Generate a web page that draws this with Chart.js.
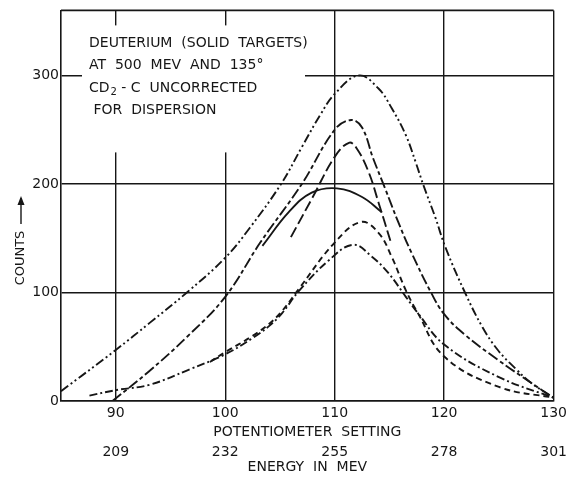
<!DOCTYPE html>
<html>
<head>
<meta charset="utf-8">
<script src="https://cdn.jsdelivr.net/npm/chart.js@4.4.1/dist/chart.umd.min.js"></script>
<style>
  html, body { margin: 0; padding: 0; background: #fff; }
  #wrap { width: 571px; height: 479px; }
</style>
</head>
<body>
<div id="wrap"><canvas id="chart"></canvas></div>
<script>
const potTicks = [90, 100, 110, 120, 130];
const energyLabels = ['209', '232', '255', '278', '301'];
const countTicks = [0, 100, 200, 300];

// dash-dot-dot curve (tallest)
const curveAx = [85, 90, 93.1, 96.5, 100, 102.2, 105.1, 107, 108.7, 110, 112.2, 114, 115.2, 116.5, 117.4, 118.1, 119.2, 120.1, 121.9, 123.5, 124.9, 126.5, 127.9, 130];
const curveAy = [9, 47, 72, 100, 132, 159, 200, 234, 264, 283, 300, 288, 270, 245, 220, 199, 169, 142, 100, 68, 47, 30, 17, 3];

// long dash / short dash curve
const curveBx = [89.7, 93, 96.5, 100, 103.2, 107, 110, 111.5, 112.5, 113.5, 114.6, 115.8, 117, 118.8, 120, 121.9, 124.9, 127.9, 130];
const curveBy = [0, 27, 59, 96, 146, 200, 250, 259, 252, 224, 196, 165, 137, 100, 80, 61, 38, 17, 3];

// long dashes, short run
const curveCx = [106, 108, 110, 111.3, 112, 113.1, 114, 115.2];
const curveCy = [151, 188, 225, 238, 233, 211, 183, 144];

// solid, short run
const curveSx = [103.4, 105.8, 107.9, 110.2, 112.5, 114.3];
const curveSy = [143, 174, 192, 196, 188, 174];

// short dashes
const curveDx = [98.6, 100, 102.5, 104, 105.2, 106.7, 110, 112.4, 114, 115.2, 116.5, 117.6, 120, 125, 130];
const curveDy = [36, 45, 60, 71, 83, 103, 146, 165, 155, 133, 102, 81, 41, 13, 3];

// dash-dot
const curveEx = [87.6, 90, 93.1, 96.7, 100, 102.5, 104, 105.2, 106.7, 109.5, 111.7, 113.4, 114.9, 116.5, 117.6, 120, 125, 130];
const curveEy = [5, 10, 15, 29, 43, 58, 69, 81, 101, 130, 144, 133, 118, 96, 81, 52, 22, 3];

const noteLines = ['DEUTERIUM  (SOLID  TARGETS)', 'AT  500  MEV  AND  135°', null, ' FOR  DISPERSION'];

const ink = '#161616';
const FONT = '"DejaVu Sans", "Liberation Sans", sans-serif';

const pts = (xs, ys) => xs.map((x, i) => ({ x, y: ys[i] }));

function curve(xs, ys, dash) {
  return {
    data: pts(xs, ys),
    borderColor: ink,
    borderWidth: 1.9,
    borderDash: dash,
    pointRadius: 0,
    fill: false,
    tension: 0.4
  };
}

const setTicks = values => axis => { axis.ticks = values.map(v => ({ value: v })); };

// blank out the grid behind the note, then write the note and the y title
const paperNotes = {
  id: 'paperNotes',
  beforeDatasetsDraw(chart) {
    const { ctx, chartArea: a } = chart;
    ctx.save();
    ctx.fillStyle = '#fff';
    ctx.fillRect(a.left + 21, a.top + 15, 223, 127);
    ctx.restore();
  },
  afterDraw(chart) {
    const { ctx, chartArea: a } = chart;
    ctx.save();
    ctx.strokeStyle = ink;
    ctx.lineWidth = 1.6;
    ctx.beginPath();
    ctx.moveTo(a.left, a.top);
    ctx.lineTo(a.right, a.top);
    ctx.stroke();

    ctx.fillStyle = ink;
    ctx.font = '14px ' + FONT;
    ctx.textBaseline = 'middle';
    const x0 = a.left + 28;
    const rows = [a.top + 33, a.top + 55, a.top + 78, a.top + 100];
    noteLines.forEach((t, i) => { if (t) ctx.fillText(t, x0, rows[i]); });
    // CD2 - C line with subscript
    let x = x0;
    ctx.fillText('CD', x, rows[2]);
    x += ctx.measureText('CD').width;
    ctx.font = '10px ' + FONT;
    ctx.fillText('2', x + 1, rows[2] + 4);
    x += ctx.measureText('2').width + 1;
    ctx.font = '14px ' + FONT;
    ctx.fillText(' - C  UNCORRECTED', x, rows[2]);

    // rotated y title with an upward arrow
    ctx.translate(21, 258);
    ctx.rotate(-Math.PI / 2);
    ctx.textAlign = 'center';
    ctx.font = '13px ' + FONT;
    ctx.fillText('COUNTS', 0, 0);
    ctx.lineWidth = 1.4;
    ctx.beginPath();
    ctx.moveTo(34, 0);
    ctx.lineTo(60, 0);
    ctx.stroke();
    ctx.beginPath();
    ctx.moveTo(62, 0);
    ctx.lineTo(53, -3.5);
    ctx.lineTo(53, 3.5);
    ctx.closePath();
    ctx.fill();
    ctx.restore();
  }
};

const tickFont = { family: FONT, size: 14 };

new Chart(document.getElementById('chart'), {
  type: 'line',
  data: {
    datasets: [
      curve(curveAx, curveAy, [9, 3, 2, 3, 2, 3]),
      curve(curveBx, curveBy, [11, 3, 4, 3]),
      curve(curveCx, curveCy, [11, 4]),
      curve(curveSx, curveSy, []),
      curve(curveDx, curveDy, [6, 4]),
      curve(curveEx, curveEy, [8, 3, 2, 3])
    ]
  },
  options: {
    responsive: true,
    maintainAspectRatio: false,
    animation: false,
    layout: { padding: { left: 0, top: 10, right: 16, bottom: 3 } },
    plugins: { legend: { display: false }, tooltip: { enabled: false } },
    scales: {
      x: {
        type: 'linear', position: 'bottom', min: 85, max: 130,
        afterBuildTicks: setTicks(potTicks),
        grid: { color: ink, lineWidth: 1.4, drawTicks: false },
        border: { color: ink, width: 1.6 },
        ticks: { color: ink, font: tickFont, padding: 4, maxRotation: 0, autoSkip: false },
        title: { display: true, text: 'POTENTIOMETER  SETTING', color: ink, font: tickFont, padding: 0 },
        afterFit: s => { s.height = 40; }
      },
      x2: {
        type: 'linear', position: 'bottom', min: 85, max: 130,
        afterBuildTicks: setTicks(potTicks),
        grid: { display: false, drawTicks: false },
        border: { display: false },
        ticks: { color: ink, font: tickFont, padding: 3, maxRotation: 0, autoSkip: false,
                 callback: (v, i) => energyLabels[i] },
        title: { display: true, text: 'ENERGY  IN  MEV', color: ink, font: tickFont, padding: 0 },
        afterFit: s => { s.height = 35; }
      },
      y: {
        min: 0, max: 360,
        afterBuildTicks: setTicks(countTicks),
        grid: { color: ink, lineWidth: 1.4, drawTicks: false },
        border: { color: ink, width: 1.6 },
        ticks: { color: ink, font: tickFont, padding: 2 },
        afterFit: s => { s.width = 61; }
      }
    }
  },
  plugins: [paperNotes]
});
</script>
</body>
</html>
